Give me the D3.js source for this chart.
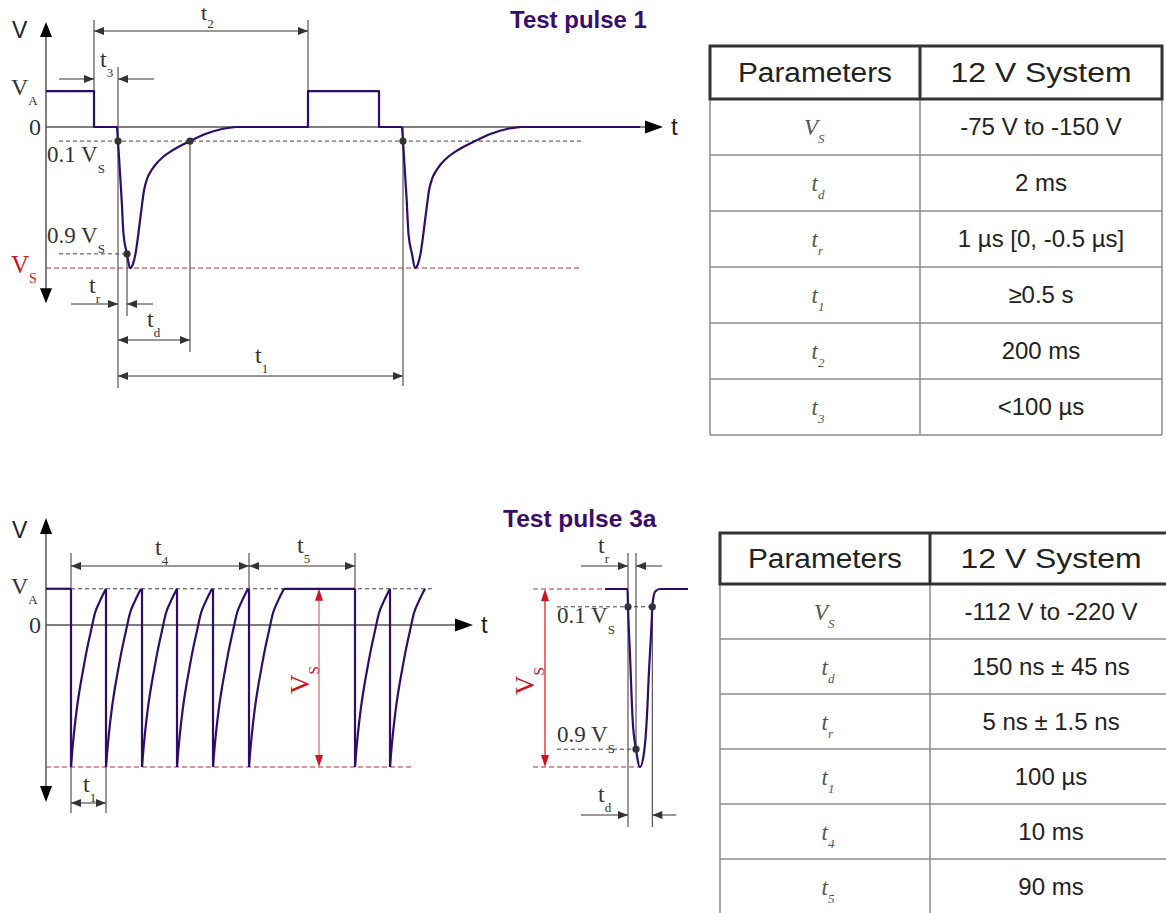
<!DOCTYPE html>
<html>
<head>
<meta charset="utf-8">
<script src="https://cdn.jsdelivr.net/npm/d3@7"></script>
<style>
  body { margin: 0; background: #fff; }
  svg { display: block; }
</style>
</head>
<body>
<svg id="fig" width="1166" height="913"></svg>
<script>
// ---------- signal levels (normalised so that |V_S| = 1) ----------
const VA = 0.255;
const VS = -1;
const LEVEL_10 = 0.1 * VS;
const LEVEL_90 = 0.9 * VS;

// ---------- Test pulse 1 (time in diagram units) ----------
const tp1Steps = [
  [[0, VA], [48, VA], [48, 0], [71, 0]],
  [[190, 0], [262, 0], [262, VA], [333, VA], [333, 0], [356, 0]],
  [[475, 0], [594, 0]]
];
const tp1Onsets = [72, 357];
const tp1Shape = [
  [-1, 0], [0, -0.1], [3.7, -0.52], [5.5, -0.76], [9, -0.9], [12, -1],
  [15, -0.97], [17.5, -0.9], [20.5, -0.75], [23.5, -0.58], [26, -0.45],
  [29, -0.369], [33, -0.312], [38, -0.262], [45, -0.213], [55, -0.163],
  [72, -0.1], [88, -0.048], [104, -0.014], [118, 0]
];
const tp1Spans = { t2: [48, 262], t3: [48, 72], tr: [72, 81], td: [72, 144], t1: [72, 357] };

// ---------- Test pulse 3a burst ----------
const tp3Onsets = [25, 60, 96, 131, 167, 203, 309, 344];
const tp3Flat = [[0, 25], [238, 309]];
const tp3Recovery = [
  [0, -1], [1, -0.91], [3, -0.76], [6, -0.58], [9, -0.44], [12, -0.32],
  [16, -0.17], [20, -0.04], [24, 0.085], [29, 0.17], [35, 0.255]
];
const tp3Spans = { t4: [25, 203], t5: [203, 309], t1: [25, 60] };

// ---------- Test pulse 3a single pulse detail (deflection from V_A) ----------
const tp3aShape = [
  [0, 0], [22.5, 0], [23, -0.1], [25, -0.37], [27.7, -0.74], [31, -0.9],
  [35, -1], [39, -0.92], [41.7, -0.74], [44, -0.46], [46.7, -0.18],
  [47.3, -0.1], [50, -0.015], [55, 0], [83, 0]
];
const tp3aSpans = { tr: [23, 31], td: [23, 47.3] };

// ---------- parameter tables ----------
const tableHeader = ["Parameters", "12 V System"];
const tp1Params = [["V", "S"], ["t", "d"], ["t", "r"], ["t", "1"], ["t", "2"], ["t", "3"]];
const tp1Values = ["-75 V to -150 V", "2 ms", "1 µs [0, -0.5 µs]", "≥0.5 s", "200 ms", "<100 µs"];
const tp3Params = [["V", "S"], ["t", "d"], ["t", "r"], ["t", "1"], ["t", "4"], ["t", "5"]];
const tp3Values = ["-112 V to -220 V", "150 ns ± 45 ns", "5 ns ± 1.5 ns", "100 µs", "10 ms", "90 ms"];

// ---------- styling ----------
const INK = "#333";
const AXIS = "#555";
const WAVE = "#2f0c6b";
const RED = "#d0131f";
const RED_DASH = "#b3303a";
const TITLE = "#3a0d6c";
const SERIF = "'Liberation Serif', 'Times New Roman', serif";
const SANS = "'Liberation Sans', Arial, sans-serif";

const svg = d3.select("#fig");

// ---------- scales ----------
const xT = d3.scaleLinear().domain([0, 616]).range([46, 662]);
const yT = d3.scaleLinear().domain([VS, 0]).range([268, 127]);
const xB = d3.scaleLinear().domain([0, 427]).range([46, 473]);
const yB = d3.scaleLinear().domain([VS, 0]).range([767, 625]);
const xD = d3.scaleLinear().domain([0, 83]).range([605, 688]);
const yD = d3.scaleLinear().domain([VS, 0]).range([767, 589]);

// ---------- drawing helpers ----------
function seg(g, x1, y1, x2, y2, stroke = INK, w = 1, dash = null) {
  const l = g.append("line")
    .attr("x1", x1).attr("y1", y1).attr("x2", x2).attr("y2", y2)
    .attr("stroke", stroke).attr("stroke-width", w);
  if (dash) l.attr("stroke-dasharray", dash);
  return l;
}
function headH(g, x, y, dir, L = 10, W = 4, fill = INK) {
  g.append("path")
    .attr("d", `M${x},${y}L${x - dir * L},${y - W}L${x - dir * L},${y + W}Z`)
    .attr("fill", fill);
}
function headV(g, x, y, dir, L = 10, W = 4, fill = INK) {
  g.append("path")
    .attr("d", `M${x},${y}L${x - W},${y - dir * L}L${x + W},${y - dir * L}Z`)
    .attr("fill", fill);
}
function dimBoth(g, xa, xb, y) {
  seg(g, xa, y, xb, y);
  headH(g, xa, y, -1);
  headH(g, xb, y, 1);
}
function dimOutside(g, xa, xb, y, extA, extB) {
  seg(g, xa - extA, y, xa, y);
  headH(g, xa, y, 1);
  seg(g, xb + extB, y, xb, y);
  headH(g, xb, y, -1);
}
function sublabel(g, x, y, base, sub, o = {}) {
  const size = o.size || 24, subSize = o.subSize || 13;
  const fill = o.fill || INK, family = o.family || SERIF;
  const t = g.append("text").attr("x", x).attr("y", y)
    .attr("font-family", family).attr("font-size", size).attr("fill", fill).text(base);
  const w = t.node().getComputedTextLength();
  g.append("text").attr("x", x + w + (o.subDx || 0)).attr("y", y + (o.subDy || 10))
    .attr("font-family", family).attr("font-size", subSize).attr("fill", fill).text(sub);
}
function rotLabel(g, x, y, base, sub, fill) {
  const r = g.append("g").attr("transform", `translate(${x},${y}) rotate(-90)`);
  sublabel(r, 0, 0, base, sub, { size: 27, subSize: 15, fill: fill, subDy: 10 });
}
function dot(g, x, y) {
  g.append("circle").attr("cx", x).attr("cy", y).attr("r", 3.6).attr("fill", INK);
}
const linePath = (xs, ys) => d3.line().x(d => xs(d[0])).y(d => ys(d[1]));
const smoothPath = (xs, ys) => d3.line().x(d => xs(d[0])).y(d => ys(d[1])).curve(d3.curveMonotoneX);
function wave(g, d, gen) {
  g.append("path").attr("d", gen(d)).attr("fill", "none")
    .attr("stroke", WAVE).attr("stroke-width", 2.2).attr("stroke-linejoin", "round");
}

// =====================================================================
// Test pulse 1
// =====================================================================
const gT = svg.append("g");

// guide lines
seg(gT, xT(tp1Spans.t2[0]), 20, xT(tp1Spans.t2[0]), yT(VA));
seg(gT, xT(tp1Spans.t2[1]), 20, xT(tp1Spans.t2[1]), yT(VA));
seg(gT, xT(tp1Spans.t3[1]), 67, xT(tp1Spans.t3[1]), 388);
seg(gT, xT(tp1Spans.tr[1]), yT(LEVEL_90), xT(tp1Spans.tr[1]), 316);
seg(gT, xT(tp1Spans.td[1]), yT(LEVEL_10), xT(tp1Spans.td[1]), 352);
seg(gT, xT(tp1Spans.t1[1]), yT(0), xT(tp1Spans.t1[1]), 386);

// threshold lines
seg(gT, 59, yT(LEVEL_10), 582, yT(LEVEL_10), "#444", 1, "4,3");
seg(gT, 59, yT(LEVEL_90), xT(tp1Spans.tr[1]), yT(LEVEL_90), "#444", 1, "4,3");
seg(gT, xT(0), yT(VS), 582, yT(VS), RED_DASH, 1.1, "5,3");

// axes
seg(gT, xT(0), yT(0.7), xT(0), yT(-1.2), AXIS, 1.5);
headV(gT, xT(0), yT(0.745), -1, 15, 6, "#000");
headV(gT, xT(0), yT(-1.25), 1, 15, 6, "#000");
seg(gT, xT(0), yT(0), xT(602), yT(0), AXIS, 1.5);
headH(gT, xT(617), yT(0), 1, 18, 6.5, "#000");

// dimension arrows
dimBoth(gT, xT(tp1Spans.t2[0]), xT(tp1Spans.t2[1]), 31);
dimOutside(gT, xT(tp1Spans.t3[0]), xT(tp1Spans.t3[1]), 79, 35, 36);
dimOutside(gT, xT(tp1Spans.tr[0]), xT(tp1Spans.tr[1]), 304, 47, 26);
dimBoth(gT, xT(tp1Spans.td[0]), xT(tp1Spans.td[1]), 340);
dimBoth(gT, xT(tp1Spans.t1[0]), xT(tp1Spans.t1[1]), 376);

// waveform
tp1Steps.forEach(s => wave(gT, s, linePath(xT, yT)));
tp1Onsets.forEach(t0 => wave(gT, tp1Shape.map(([dt, v]) => [t0 + dt, v]), smoothPath(xT, yT)));

// crossing markers
dot(gT, xT(tp1Onsets[0]), yT(LEVEL_10));
dot(gT, xT(tp1Spans.td[1]), yT(LEVEL_10));
dot(gT, xT(tp1Spans.tr[1]), yT(LEVEL_90));
dot(gT, xT(tp1Onsets[1]), yT(LEVEL_10));

// labels
gT.append("text").attr("x", 12).attr("y", 38).attr("font-family", SANS).attr("font-size", 23).attr("fill", "#222").text("V");
gT.append("text").attr("x", 671).attr("y", 135).attr("font-family", SANS).attr("font-size", 24).attr("fill", "#222").text("t");
sublabel(gT, 11, 95, "V", "A");
gT.append("text").attr("x", 29).attr("y", 135).attr("font-family", SERIF).attr("font-size", 24).attr("fill", INK).text("0");
sublabel(gT, 47, 162, "0.1 V", "S", { size: 23, subDy: 11 });
sublabel(gT, 47, 243, "0.9 V", "S", { size: 23, subDy: 10 });
sublabel(gT, 11, 273, "V", "S", { fill: RED, size: 25, subSize: 14 });
sublabel(gT, 201, 20, "t", "2", { size: 22, subDy: 8 });
sublabel(gT, 100, 67, "t", "3");
sublabel(gT, 89, 293, "t", "r");
sublabel(gT, 147, 327, "t", "d");
sublabel(gT, 255, 363, "t", "1");

gT.append("text").attr("x", 510).attr("y", 28).attr("font-family", SANS).attr("font-weight", "bold")
  .attr("font-size", 24).attr("fill", TITLE).text("Test pulse 1");

// =====================================================================
// Test pulse 3a – burst
// =====================================================================
const gB = svg.append("g");

seg(gB, xB(tp3Spans.t4[0]), 553, xB(tp3Spans.t4[0]), 813);
seg(gB, xB(tp3Spans.t4[1]), 553, xB(tp3Spans.t4[1]), yB(VA));
seg(gB, xB(tp3Spans.t5[1]), 553, xB(tp3Spans.t5[1]), yB(VA));
seg(gB, xB(tp3Spans.t1[1]), yB(VS), xB(tp3Spans.t1[1]), 813);

seg(gB, xB(tp3Spans.t4[0]), yB(VA), 435, yB(VA), "#444", 1, "4,3");
seg(gB, xB(0), yB(VS), 413, yB(VS), RED_DASH, 1.1, "5,3");

seg(gB, xB(0), yB(0.72), xB(0), yB(-1.2), AXIS, 1.5);
headV(gB, xB(0), yB(0.754), -1, 16, 6, "#000");
headV(gB, xB(0), yB(-1.246), 1, 16, 6, "#000");
seg(gB, xB(0), yB(0), xB(412), yB(0), AXIS, 1.5);
headH(gB, xB(427), yB(0), 1, 18, 6.5, "#000");

dimBoth(gB, xB(tp3Spans.t4[0]), xB(tp3Spans.t4[1]), 566);
dimBoth(gB, xB(tp3Spans.t5[0]), xB(tp3Spans.t5[1]), 566);
dimBoth(gB, xB(tp3Spans.t1[0]), xB(tp3Spans.t1[1]), 803);

// V_S span arrow
const xVs = 319;
seg(gB, xVs, yB(VA) + 6, xVs, yB(VS) - 6, "#e0606a", 1.2);
headV(gB, xVs, yB(VA), -1, 12, 4, RED);
headV(gB, xVs, yB(VS), 1, 12, 4, RED);

// waveform
tp3Flat.forEach(([a, b]) => wave(gB, [[a, VA], [b, VA]], linePath(xB, yB)));
tp3Onsets.forEach(t0 => {
  wave(gB, [[t0, VA], [t0, VS]], linePath(xB, yB));
  wave(gB, tp3Recovery.map(([dt, v]) => [t0 + dt, v]), smoothPath(xB, yB));
});

gB.append("text").attr("x", 12).attr("y", 538).attr("font-family", SANS).attr("font-size", 23).attr("fill", "#222").text("V");
gB.append("text").attr("x", 481).attr("y", 633).attr("font-family", SANS).attr("font-size", 24).attr("fill", "#222").text("t");
sublabel(gB, 11, 594, "V", "A");
gB.append("text").attr("x", 29).attr("y", 633).attr("font-family", SERIF).attr("font-size", 24).attr("fill", INK).text("0");
sublabel(gB, 155, 555, "t", "4");
sublabel(gB, 297, 553, "t", "5");
sublabel(gB, 83, 792, "t", "1");
rotLabel(gB, 309, 694, "V", "S", RED);

gB.append("text").attr("x", 503).attr("y", 527).attr("font-family", SANS).attr("font-weight", "bold")
  .attr("font-size", 24.5).attr("fill", TITLE).text("Test pulse 3a");

// =====================================================================
// Test pulse 3a – single pulse detail
// =====================================================================
const gD = svg.append("g");

seg(gD, xD(tp3aSpans.tr[0]), 553, xD(tp3aSpans.tr[0]), 827);
seg(gD, xD(tp3aSpans.tr[1]), 553, xD(tp3aSpans.tr[1]), yD(LEVEL_90));
seg(gD, xD(tp3aSpans.td[1]), yD(LEVEL_10), xD(tp3aSpans.td[1]), 827);

seg(gD, 533, yD(0), xD(0), yD(0), RED_DASH, 1.1, "5,3");
seg(gD, 533, yD(VS), 640, yD(VS), RED_DASH, 1.1, "5,3");
seg(gD, 557, yD(LEVEL_10), 652, yD(LEVEL_10), "#444", 1, "4,3");
seg(gD, 557, yD(LEVEL_90), xD(tp3aSpans.tr[1]), yD(LEVEL_90), "#444", 1, "4,3");

const xVd = 545;
seg(gD, xVd, yD(0) + 6, xVd, yD(VS) - 6, RED, 1.2);
headV(gD, xVd, yD(0), -1, 12, 4, RED);
headV(gD, xVd, yD(VS), 1, 12, 4, RED);

dimOutside(gD, xD(tp3aSpans.tr[0]), xD(tp3aSpans.tr[1]), 566, 47, 26);
dimOutside(gD, xD(tp3aSpans.td[0]), xD(tp3aSpans.td[1]), 815, 47, 24);

wave(gD, tp3aShape, smoothPath(xD, yD));

dot(gD, xD(tp3aSpans.tr[0]), yD(LEVEL_10));
dot(gD, xD(tp3aSpans.td[1]), yD(LEVEL_10));
dot(gD, xD(tp3aSpans.tr[1]), yD(LEVEL_90));

sublabel(gD, 557, 623, "0.1 V", "S", { size: 23, subDy: 11 });
sublabel(gD, 557, 742, "0.9 V", "S", { size: 23, subDy: 11 });
sublabel(gD, 598, 553, "t", "r");
sublabel(gD, 598, 802, "t", "d");
rotLabel(gD, 534, 695, "V", "S", RED);

// =====================================================================
// parameter tables
// =====================================================================
function drawTable(box, params, values) {
  const g = svg.append("g");
  const n = params.length;
  const yBody = box.y0 + box.hh;
  const rowY = d3.scaleLinear().domain([0, n]).range([yBody, yBody + n * box.rh]);
  const grid = "#8c8c8c";

  d3.range(1, n + 1).forEach(i => seg(g, box.x0, rowY(i), box.x1, rowY(i), grid, 1.5));
  [box.x0, box.xs, box.x1].forEach(x => seg(g, x, yBody, x, rowY(n), grid, 1.5));

  g.append("rect").attr("x", box.x0).attr("y", box.y0)
    .attr("width", box.x1 - box.x0).attr("height", box.hh)
    .attr("fill", "none").attr("stroke", "#333").attr("stroke-width", 3);
  seg(g, box.xs, box.y0, box.xs, yBody, "#333", 3);

  const c1 = (box.x0 + box.xs) / 2, c2 = (box.xs + box.x1) / 2;
  const headWidths = [154, 181];
  g.selectAll("text.head").data(tableHeader).join("text")
    .attr("class", "head")
    .attr("x", (d, i) => i === 0 ? c1 : c2)
    .attr("y", box.y0 + box.hh / 2 + 9.5)
    .attr("text-anchor", "middle")
    .attr("font-family", SANS).attr("font-size", 27).attr("fill", "#222")
    .attr("textLength", (d, i) => headWidths[i])
    .attr("lengthAdjust", "spacingAndGlyphs")
    .text(d => d);

  params.forEach((p, i) => {
    const cy = (rowY(i) + rowY(i + 1)) / 2;
    g.append("text").attr("x", c1 + 3).attr("y", cy + 8).attr("text-anchor", "end")
      .attr("font-family", SERIF).attr("font-style", "italic").attr("font-size", 23)
      .attr("fill", "#555").text(p[0]);
    g.append("text").attr("x", c1 + 3).attr("y", cy + 16)
      .attr("font-family", SERIF).attr("font-style", "italic").attr("font-size", 13)
      .attr("fill", "#555").text(p[1]);
    g.append("text").attr("x", c2).attr("y", cy + 8).attr("text-anchor", "middle")
      .attr("font-family", SANS).attr("font-size", 24).attr("fill", "#222")
      .text(values[i]);
  });
}

drawTable({ x0: 710, x1: 1162, xs: 920, y0: 46, hh: 53, rh: 56 }, tp1Params, tp1Values);
drawTable({ x0: 720, x1: 1172, xs: 930, y0: 533, hh: 51, rh: 55 }, tp3Params, tp3Values);
</script>
</body>
</html>
